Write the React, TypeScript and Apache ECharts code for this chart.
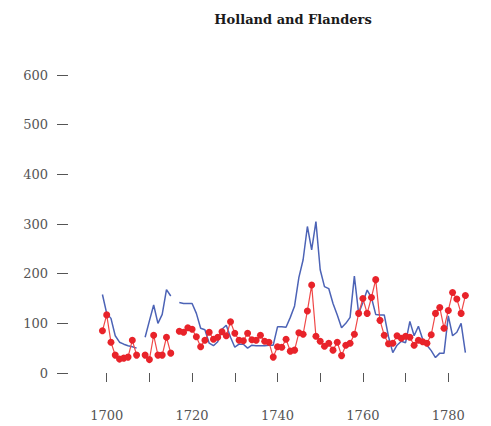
import React, { useEffect, useRef } from "react";
import * as echarts from "echarts";

const years = [
  1699, 1700, 1701, 1702, 1703, 1704, 1705, 1706, 1707, 1708, 1709, 1710, 1711, 1712, 1713, 1714, 1715, 1716, 1717, 1718, 1719,
  1720, 1721, 1722, 1723, 1724, 1725, 1726, 1727, 1728, 1729, 1730, 1731, 1732, 1733, 1734, 1735, 1736, 1737, 1738, 1739,
  1740, 1741, 1742, 1743, 1744, 1745, 1746, 1747, 1748, 1749, 1750, 1751, 1752, 1753, 1754, 1755, 1756, 1757, 1758, 1759,
  1760, 1761, 1762, 1763, 1764, 1765, 1766, 1767, 1768, 1769, 1770, 1771, 1772, 1773, 1774, 1775, 1776, 1777, 1778, 1779,
  1780, 1781, 1782, 1783, 1784,
];

const blueValues: (number | null)[] = [
  158, 120, 110, 75, 62, 58, 55, 53, 50, null, 72, 105, 137, 100, 118, 168, 155, null, 142, 140, 140,
  140, 120, 90, 87, 60, 55, 63, 88, 96, 72, 52, 58, 58, 50, 56, 55, 55, 55, 56, 56,
  93, 93, 92, 112, 135, 192, 228, 295, 248, 305, 208, 174, 170, 140, 117, 91, 100, 112, 195, 120,
  142, 167, 152, 118, 117, 117, 73, 41, 56, 64, 61, 104, 75, 94, 68, 56, 45, 31, 40, 40,
  115, 75, 82, 100, 41,
];

const redValues: (number | null)[] = [
  85, 117, 62, 36, 28, 30, 32, 66, 36, null, 36, 27, 76, 36, 36, 72, 40, null, 84, 82, 91,
  88, 73, 53, 66, 82, 68, 72, 83, 75, 103, 80, 66, 65, 80, 67, 66, 76, 64, 62, 32,
  53, 52, 68, 44, 46, 81, 78, 125, 177, 74, 64, 54, 60, 46, 62, 35, 56, 60, 78, 120,
  150, 120, 152, 188, 106, 76, 59, 60, 75, 70, 74, 72, 56, 66, 63, 60, 77, 120, 132, 90,
  126, 162, 149, 120, 156,
];

const xTicks = [1700, 1710, 1720, 1730, 1740, 1750, 1760, 1770, 1780, 1790];
const xLabels = [1700, 1720, 1740, 1760, 1780];
const yTicks = [0, 100, 200, 300, 400, 500, 600];

const FONT = "DejaVu Serif";

export default function App() {
  const ref = useRef<HTMLDivElement>(null);
  useEffect(() => {
    if (!ref.current) return;
    const chart = echarts.init(ref.current, null, { renderer: "svg" });
    const toPairs = (vals: (number | null)[]) => years.map((y, i) => [y, vals[i] === null ? "-" : vals[i]]);
    chart.setOption({
      animation: false,
      backgroundColor: "#ffffff",
      title: {
        text: "Holland and Flanders",
        left: 288,
        top: 8,
        textAlign: "center",
        textStyle: { fontFamily: FONT, fontSize: 13, fontWeight: 600, color: "#1a1a1a" },
      },
      grid: { left: 64, right: 0, top: 75, bottom: 53, containLabel: false },
      xAxis: {
        type: "value",
        min: 1690,
        max: 1790,
        offset: 13,
        axisLine: { show: false },
        splitLine: { show: false },
        axisTick: { show: true, length: 9, customValues: xTicks, lineStyle: { color: "#555", width: 1 } },
        axisLabel: {
          customValues: xLabels,
          formatter: (v: number) => String(v),
          margin: 23,
          fontFamily: FONT,
          fontSize: 13,
          color: "#555",
        },
      },
      yAxis: {
        type: "value",
        min: 0,
        max: 600,
        offset: -4,
        axisLine: { show: false },
        splitLine: { show: false },
        axisTick: { show: true, length: 11, customValues: yTicks, lineStyle: { color: "#555", width: 1 } },
        axisLabel: {
          customValues: yTicks,
          formatter: (v: number) => String(v),
          margin: 20,
          fontFamily: FONT,
          fontSize: 13,
          color: "#555",
        },
      },
      series: [
        {
          name: "blue",
          type: "line",
          data: toPairs(blueValues),
          showSymbol: false,
          symbol: "none",
          connectNulls: false,
          lineStyle: { color: "#4c63b6", width: 1.5 },
          itemStyle: { color: "#4c63b6" },
          z: 2,
        },
        {
          name: "red",
          type: "line",
          data: toPairs(redValues),
          symbol: "circle",
          symbolSize: 7,
          showSymbol: true,
          connectNulls: false,
          lineStyle: { color: "#f04848", width: 1.2 },
          itemStyle: { color: "#e8232a" },
          z: 3,
        },
      ],
    });
    return () => chart.dispose();
  }, []);
  return <div ref={ref} style={{ width: 491, height: 426, position: "absolute", left: 0, top: 0 }} />;
}
